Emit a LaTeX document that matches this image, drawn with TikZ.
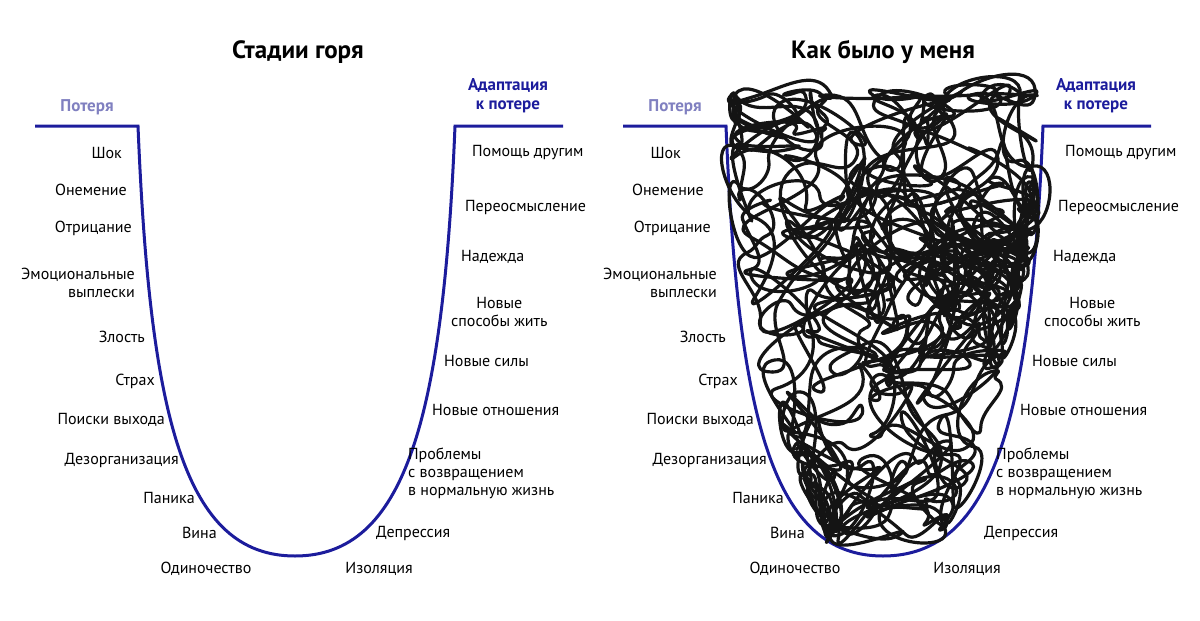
\documentclass[tikz,border=0pt]{standalone}
\usepackage{fontspec}
\setmainfont{PT Sans}
\definecolor{bowl}{HTML}{1C1C9C}
\definecolor{loss}{HTML}{8080C0}
\begin{document}
\begin{tikzpicture}[x=1pt,y=-1pt,
  lbl/.style={font=\fontsize{16}{18}\selectfont, inner sep=0pt},
  L/.style={lbl,anchor=east},
  R/.style={lbl,anchor=west},
  ttl/.style={font=\bfseries\fontsize{25}{27}\selectfont},
  curve/.style={draw=bowl,line width=3pt},
  scrib/.style={line width=3.2pt,line cap=round,line join=round,black!92}]
\useasboundingbox (0,0) rectangle (1200,621);
\foreach \o/\p/\s in {0/a/0,588/b/1}{
  \begin{scope}[xshift=\o]
  \draw[curve] (35,126) -- (138,126) .. controls (150,420) and (185,556) .. (295,556)
     .. controls (405,556) and (443,420) .. (455,126) -- (563,126);
  \node[lbl,font=\bfseries\fontsize{17}{19}\selectfont,text=loss] (\p loss) at (87,107) {Потеря};
  \node[lbl,font=\bfseries\fontsize{17}{19}\selectfont,text=bowl,align=center] (\p adapt) at (508,96) {Адаптация\\к потере};
  \end{scope}
  \node[L] (\p1) at (122+\s*559,153) {Шок};
  \node[L] (\p2) at (127+\s*577,190) {Онемение};
  \node[L] (\p3) at (132+\s*579,228) {Отрицание};
  \node[L,align=right] (\p4) at (135+\s*582,283) {Эмоциональные\\выплески};
  \node[L] (\p5) at (145+\s*581,337) {Злость};
  \node[L] (\p6) at (155+\s*583,381) {Страх};
  \node[L] (\p7) at (165+\s*589,420) {Поиски выхода};
  \node[L] (\p8) at (179+\s*588,460) {Дезорганизация};
  \node[L] (\p9) at (195+\s*589,498) {Паника};
  \node[L] (\p10) at (217+\s*588,533) {Вина};
  \node[lbl] (\p11) at (206+\s*589,569) {Одиночество};
  \node[R] (\p12) at (472+\s*593,153) {Помощь другим};
  \node[R] (\p13) at (465+\s*593,207) {Переосмысление};
  \node[R] (\p14) at (461+\s*592,257) {Надежда};
  \node[R,align=center] (\p15) at (451+\s*593,312) {Новые\\способы жить};
  \node[R] (\p16) at (444+\s*588,361) {Новые силы};
  \node[R] (\p17) at (432+\s*588,410) {Новые отношения};
  \node[R,align=left] (\p18) at (408+\s*588,473) {Проблемы\\с возвращением\\в нормальную жизнь};
  \node[R] (\p19) at (376+\s*608,533) {Депрессия};
  \node[lbl] (\p20) at (379+\s*588,569) {Изоляция};
}
\node[ttl] (t1) at (298,52) {Стадии горя};
\node[ttl] (t2) at (883,52) {Как было у меня};
% scribble
\pgfmathsetseed{23}
\xdef\px{887}\xdef\py{300}\xdef\pa{0}
\foreach \i in {1,...,480}{
  \pgfmathsetmacro\ny{max(95,min(535,\py+(2*rnd-1)*80))}
  \pgfmathsetmacro\hw{150-95*((\ny-95)/440)^2}
  \pgfmathsetmacro\nx{max(885-\hw,min(885+\hw,\px+(2*rnd-1)*90))}
  \pgfmathsetmacro\nb{rnd*360}
  \pgfmathsetmacro\ia{\nb+180}
  \draw[scrib] (\px,\py) to[out=\pa,in=\ia,looseness=1.1] (\nx,\ny);
  \xdef\px{\nx}\xdef\py{\ny}\xdef\pa{\nb}
}
\end{tikzpicture}
\end{document}
